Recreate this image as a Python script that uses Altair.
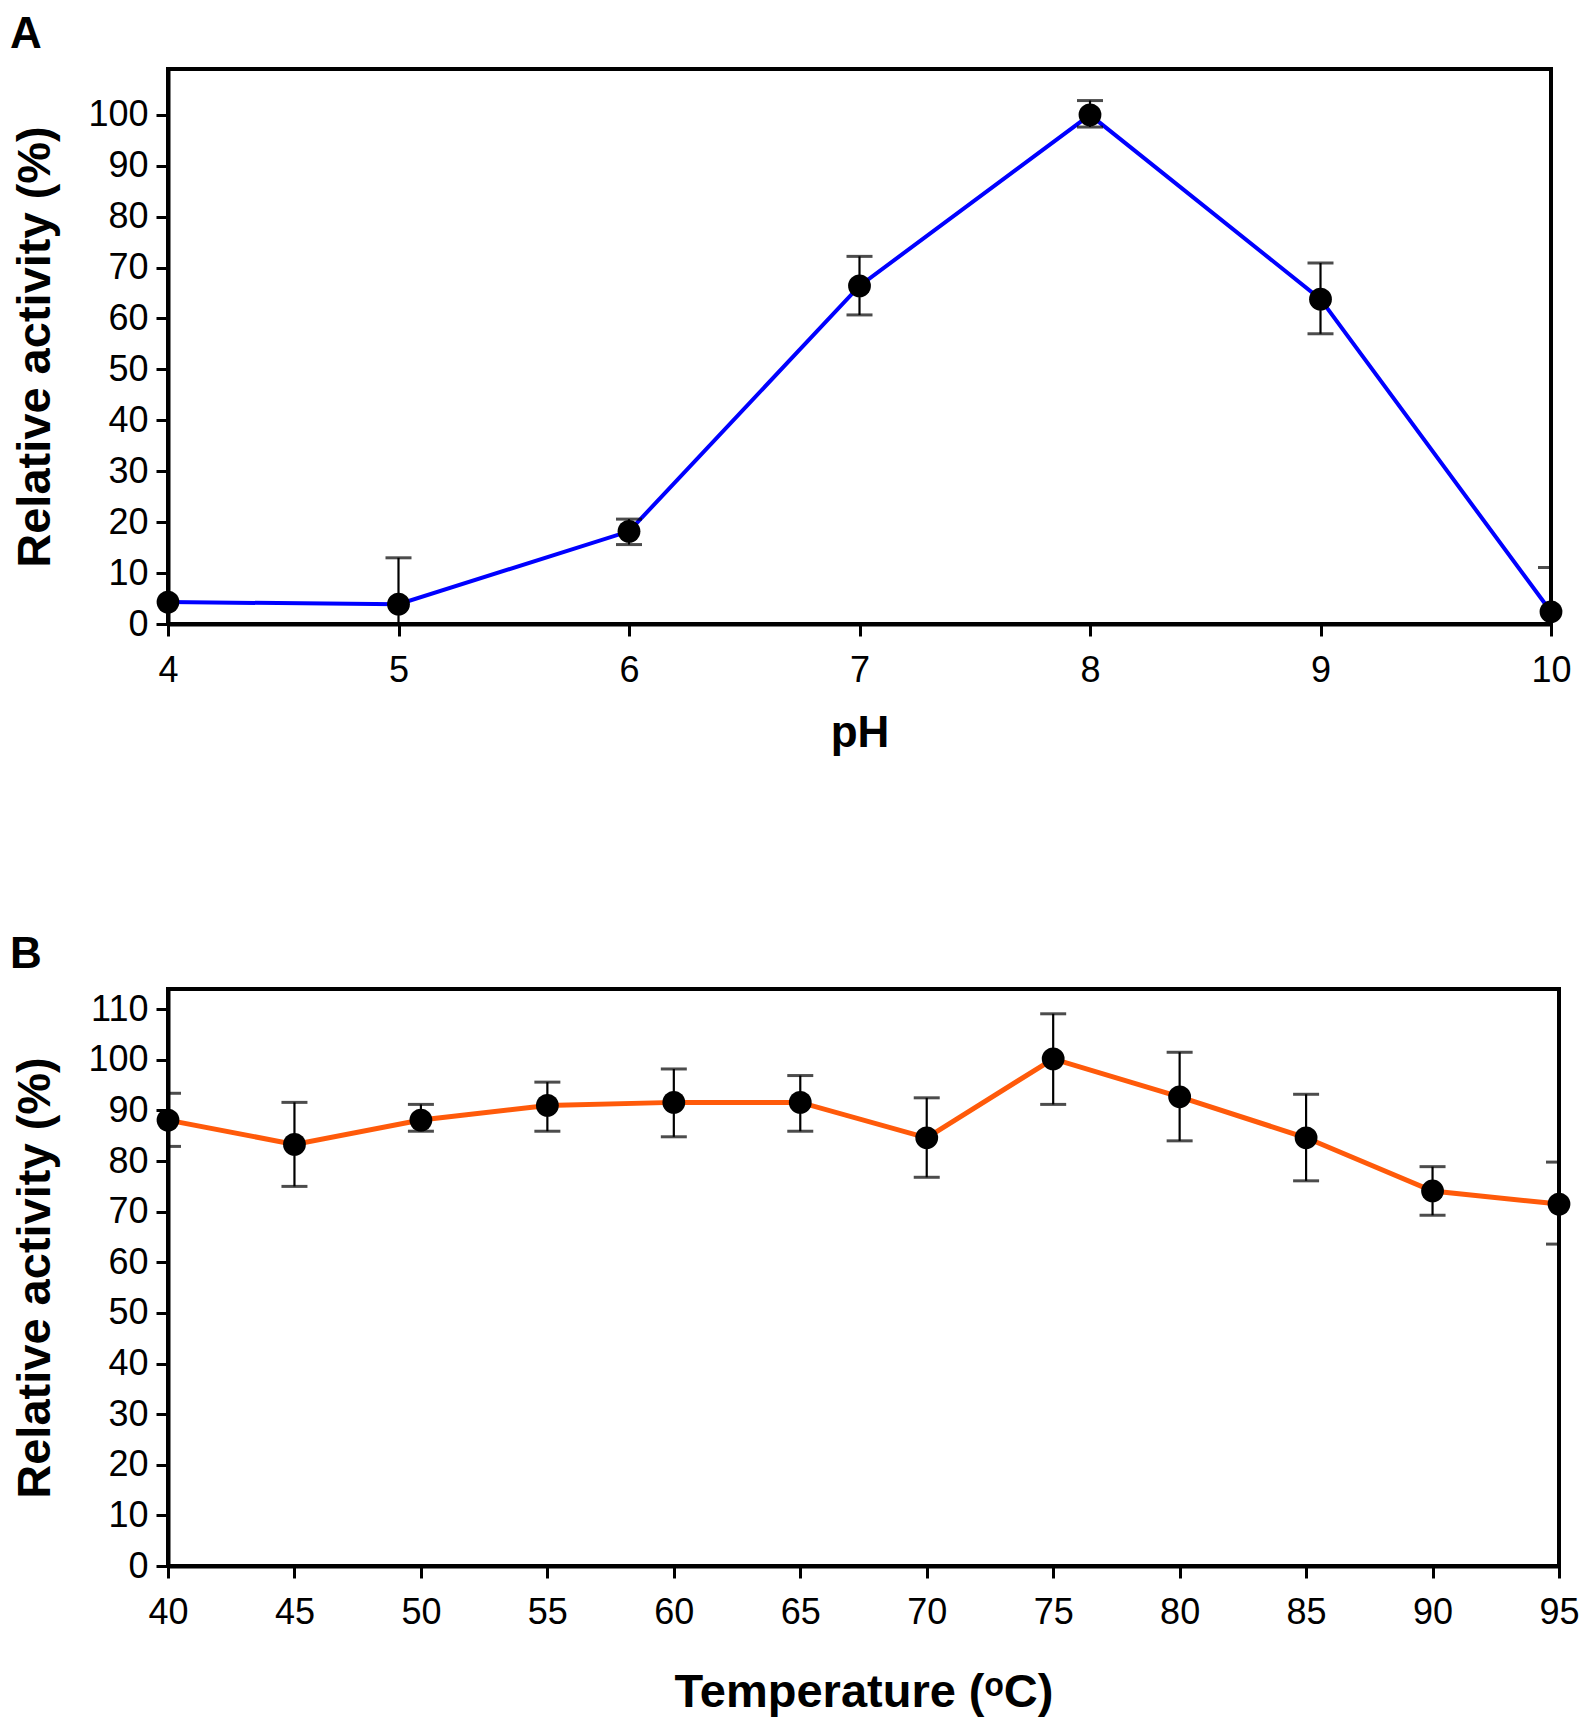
import altair as alt
import pandas as pd

# Panel A: pH profile
ph = [4, 5, 6, 7, 8, 9, 10]
ph_act = [4.3, 3.9, 18.2, 66.4, 100.0, 63.8, 2.4]
ph_hi = [4.3, 13.0, 20.6, 72.2, 102.8, 70.9, 11.1]
ph_lo = [4.3, -5.2, 15.6, 60.7, 97.6, 57.0, -6.3]
ph_ticks = [4, 5, 6, 7, 8, 9, 10]
ph_yticks = [0, 10, 20, 30, 40, 50, 60, 70, 80, 90, 100]

# Panel B: temperature profile
temp = [40, 45, 50, 55, 60, 65, 70, 75, 80, 85, 90, 95]
temp_act = [88.1, 83.3, 88.1, 91.0, 91.6, 91.6, 84.6, 100.2, 92.7, 84.6, 74.1, 71.5]
temp_hi = [93.4, 91.6, 91.2, 95.6, 98.2, 96.9, 92.5, 109.1, 101.5, 93.2, 78.9, 79.8]
temp_lo = [82.9, 75.0, 85.9, 85.9, 84.8, 85.9, 76.8, 91.2, 84.0, 76.1, 69.3, 63.6]
temp_ticks = [40, 45, 50, 55, 60, 65, 70, 75, 80, 85, 90, 95]
temp_yticks = [0, 10, 20, 30, 40, 50, 60, 70, 80, 90, 100, 110]

FONT = "Liberation Sans"


def panel(xs, act, hi, lo, xdom, ydom, xticks, yticks, xtitle, xtsize, xtpad,
          color, lw, letter, w, h):
    df = pd.DataFrame({"x": xs, "act": act, "hi": hi, "lo": lo})
    base = alt.Chart(df)
    xenc = alt.X("x:Q", scale=alt.Scale(domain=xdom, nice=False, zero=False),
                 axis=alt.Axis(values=xticks, title=xtitle, format="d",
                               titleFontSize=xtsize, titlePadding=xtpad))
    yenc = alt.Y("act:Q", scale=alt.Scale(domain=ydom, nice=False),
                 axis=alt.Axis(values=yticks, title="Relative activity (%)",
                               format="d", titleFontSize=47))
    line = base.mark_line(color=color, strokeWidth=lw).encode(x=xenc, y=yenc)
    err = base.transform_filter("datum.hi > datum.act").mark_rule(
        color="black", strokeWidth=2.2, clip=True
    ).encode(x="x:Q", y="lo:Q", y2="hi:Q")
    cap_hi = base.transform_filter("datum.hi > datum.act").mark_tick(
        color="black", orient="horizontal", size=26, thickness=3, clip=True
    ).encode(x="x:Q", y="hi:Q")
    cap_lo = base.transform_filter("datum.hi > datum.act").mark_tick(
        color="black", orient="horizontal", size=26, thickness=3, clip=True
    ).encode(x="x:Q", y="lo:Q")
    pts = base.mark_circle(color="black", size=520, opacity=1).encode(
        x="x:Q", y="act:Q")
    lab = alt.Chart(pd.DataFrame({"t": [letter]})).mark_text(
        font=FONT, fontSize=44, fontWeight="bold", align="left",
        baseline="alphabetic", color="black"
    ).encode(text="t:N", x=alt.value(-158), y=alt.value(-21))
    return alt.layer(line, err, cap_hi, cap_lo, pts, lab).properties(
        width=w, height=h)


a = panel(ph, ph_act, ph_hi, ph_lo, [4, 10], [0, 109], ph_ticks, ph_yticks,
          "pH", 44, 23, "#0000FF", 4, "A", 1383, 555)
b = panel(temp, temp_act, temp_hi, temp_lo, [40, 95], [0, 114], temp_ticks,
          temp_yticks, "Temperature (ᵒC)", 47, 39, "#FF5A0A", 5, "B", 1391, 577)

chart = alt.vconcat(a, b, spacing=174).properties(
    padding={"left": 0, "top": 3, "right": 0, "bottom": 0}
).configure_view(
    stroke="black", strokeWidth=4
).configure_axis(
    labelFont=FONT, labelFontSize=36, labelColor="black", labelFlush=False,
    labelOverlap=False,
    titleFont=FONT, titleFontWeight="bold",
    titleColor="black", domainColor="black", domainWidth=4,
    tickColor="black", tickWidth=3, tickSize=12, grid=False,
).configure_axisX(
    labelPadding=17,
).configure_axisY(
    labelPadding=8, titlePadding=28,
)

chart.save("out.html", embed_options={"renderer": "svg", "actions": False})
